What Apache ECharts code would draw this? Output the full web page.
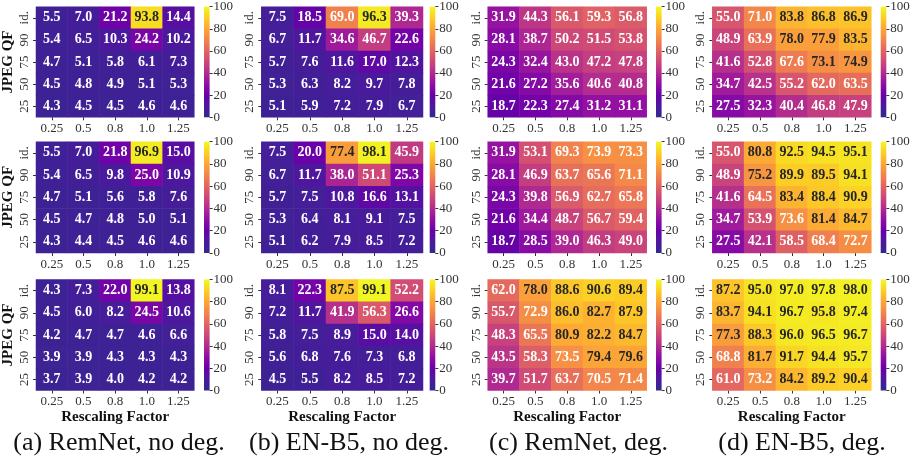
<!DOCTYPE html>
<html><head><meta charset="utf-8">
<script src="https://cdn.jsdelivr.net/npm/echarts@6/dist/echarts.min.js"></script>
<style>html,body{margin:0;padding:0;background:#fff}#c{width:913px;height:465px}</style>
</head><body><div id="c"></div>
<script>
// ---------- data ----------
const xCats = ['0.25', '0.5', '0.8', '1.0', '1.25'];          // Rescaling Factor
const yCats = ['25', '50', '75', '90', 'id.'];                 // JPEG QF, bottom -> top
const cbMin = 0, cbMax = 100, cbStep = 20;                      // colorbar ticks
const captions = ['(a) RemNet, no deg.', '(b) EN-B5, no deg.', '(c) RemNet, deg.', '(d) EN-B5, deg.'];

// each panel: rows listed top (id.) to bottom (25), columns 0.25 .. 1.25
const a1 = [[5.5, 7.0, 21.2, 93.8, 14.4], [5.4, 6.5, 10.3, 24.2, 10.2], [4.7, 5.1, 5.8, 6.1, 7.3], [4.5, 4.8, 4.9, 5.1, 5.3], [4.3, 4.5, 4.5, 4.6, 4.6]];
const b1 = [[7.5, 18.5, 69.0, 96.3, 39.3], [6.7, 11.7, 34.6, 46.7, 22.6], [5.7, 7.6, 11.6, 17.0, 12.3], [5.3, 6.3, 8.2, 9.7, 7.8], [5.1, 5.9, 7.2, 7.9, 6.7]];
const c1 = [[31.9, 44.3, 56.1, 59.3, 56.8], [28.1, 38.7, 50.2, 51.5, 53.8], [24.3, 32.4, 43.0, 47.2, 47.8], [21.6, 27.2, 35.6, 40.6, 40.8], [18.7, 22.3, 27.4, 31.2, 31.1]];
const d1 = [[55.0, 71.0, 83.8, 86.8, 86.9], [48.9, 63.9, 78.0, 77.9, 83.5], [41.6, 52.8, 67.6, 73.1, 74.9], [34.7, 42.5, 55.2, 62.0, 63.5], [27.5, 32.3, 40.4, 46.8, 47.9]];

const a2 = [[5.5, 7.0, 21.8, 96.9, 15.0], [5.4, 6.5, 9.8, 25.0, 10.9], [4.7, 5.1, 5.6, 5.8, 7.6], [4.5, 4.7, 4.8, 5.0, 5.1], [4.3, 4.4, 4.5, 4.6, 4.6]];
const b2 = [[7.5, 20.0, 77.4, 98.1, 45.9], [6.7, 11.7, 38.0, 51.1, 25.3], [5.7, 7.5, 10.8, 16.6, 13.1], [5.3, 6.4, 8.1, 9.1, 7.5], [5.1, 6.2, 7.9, 8.5, 7.2]];
const c2 = [[31.9, 53.1, 69.3, 73.9, 73.3], [28.1, 46.9, 63.7, 65.6, 71.1], [24.3, 39.8, 56.9, 62.7, 65.8], [21.6, 34.4, 48.7, 56.7, 59.4], [18.7, 28.5, 39.0, 46.3, 49.0]];
const d2 = [[55.0, 80.8, 92.5, 94.5, 95.1], [48.9, 75.2, 89.9, 89.5, 94.1], [41.6, 64.5, 83.4, 88.4, 90.9], [34.7, 53.9, 73.6, 81.4, 84.7], [27.5, 42.1, 58.5, 68.4, 72.7]];

const a3 = [[4.3, 7.3, 22.0, 99.1, 13.8], [4.5, 6.0, 8.2, 24.5, 10.6], [4.2, 4.7, 4.7, 4.6, 6.6], [3.9, 3.9, 4.3, 4.3, 4.3], [3.7, 3.9, 4.0, 4.2, 4.2]];
const b3 = [[8.1, 22.3, 87.5, 99.1, 52.2], [7.2, 11.7, 41.9, 56.3, 26.6], [5.8, 7.5, 8.9, 15.0, 14.0], [5.6, 6.8, 7.6, 7.3, 6.8], [4.5, 5.5, 8.2, 8.5, 7.2]];
const c3 = [[62.0, 78.0, 88.6, 90.6, 89.4], [55.7, 72.9, 86.0, 82.7, 87.9], [48.3, 65.5, 80.9, 82.2, 84.7], [43.5, 58.3, 73.5, 79.4, 79.6], [39.7, 51.7, 63.7, 70.5, 71.4]];
const d3 = [[87.2, 95.0, 97.0, 97.8, 98.0], [83.7, 94.1, 96.7, 95.8, 97.4], [77.3, 88.3, 96.0, 96.5, 96.7], [68.8, 81.7, 91.7, 94.4, 95.7], [61.0, 73.2, 84.2, 89.2, 90.4]];

const panels = [[a1, b1, c1, d1], [a2, b2, c2, d2], [a3, b3, c3, d3]];

// ---------- style / layout ----------
const plasma = ['#34288f', '#4a1a9c', '#6a00a8', '#8f0da4', '#b12a90', '#cc4778', '#e16462', '#f2844b', '#fca636', '#fcce25', '#f0f921'];
const SERIF = '"Liberation Serif", "Times New Roman", serif';
const colLeft = [36, 261.3, 487.7, 712.3];
const colWidth = [158.3, 161.7, 159, 159];
const rowTop = [6.7, 141.7, 279.5];
const rowHeight = [110.6, 111.3, 111];
const cbLeft = [204, 429.7, 656, 880.7];
const cbWidth = 5.6;
const capX = [119, 349, 578.5, 802];
const darkThreshold = [[74, 74, 74, 72], [74, 74, 74, 74], [74, 74, 74, 74]];
const tickColor = '#333';

const grid = [], xAxis = [], yAxis = [], series = [];
const heatIdx = [];
for (let r = 0; r < 3; r++) {
  for (let c = 0; c < 4; c++) {
    const gi = grid.length;
    grid.push({left: colLeft[c], top: rowTop[r], width: colWidth[c], height: rowHeight[r], containLabel: false});
    xAxis.push({
      type: 'category', gridIndex: gi, data: xCats,
      axisLine: {show: false},
      axisTick: {show: true, alignWithLabel: true, length: 3, lineStyle: {color: tickColor}},
      axisLabel: {margin: 5, fontFamily: SERIF, fontSize: 13, color: tickColor},
      splitArea: {show: false}, splitLine: {show: false},
      name: r === 2 ? 'Rescaling Factor' : '', nameLocation: 'middle', nameGap: 14,
      nameTextStyle: {fontFamily: SERIF, fontWeight: 'bold', fontSize: 15, color: '#111', verticalAlign: 'top'}
    });
    yAxis.push({
      type: 'category', gridIndex: gi, data: yCats,
      axisLine: {show: false},
      axisTick: {show: true, alignWithLabel: true, length: 3, lineStyle: {color: tickColor}},
      axisLabel: {margin: 5, rotate: 90, fontFamily: SERIF, fontSize: 13, color: tickColor},
      splitArea: {show: false}, splitLine: {show: false},
      name: c === 0 ? 'JPEG QF' : '', nameLocation: 'middle', nameGap: 20, nameRotate: 90,
      nameTextStyle: {fontFamily: SERIF, fontWeight: 'bold', fontSize: 15, color: '#111'}
    });
    const p = panels[r][c];
    const data = [];
    for (let i = 0; i < 5; i++) {
      for (let j = 0; j < 5; j++) {
        const v = p[i][j];
        data.push({value: [j, 4 - i, v], label: {color: v >= darkThreshold[r][c] ? '#262626' : '#ffffff'}});
      }
    }
    heatIdx.push(series.length);
    series.push({
      type: 'heatmap', xAxisIndex: gi, yAxisIndex: gi, data: data,
      label: {show: true, fontFamily: SERIF, fontWeight: 'bold', fontSize: 14,
        formatter: (q) => q.value[2].toFixed(1)},
      itemStyle: {borderWidth: 0}, emphasis: {disabled: true}, silent: true
    });
  }
}
// colorbars
const stops = plasma.map((col, k) => ({offset: k / (plasma.length - 1), color: col}));
for (let r = 0; r < 3; r++) {
  for (let c = 0; c < 4; c++) {
    const gi = grid.length;
    grid.push({left: cbLeft[c], top: rowTop[r], width: cbWidth, height: rowHeight[r], containLabel: false});
    xAxis.push({type: 'category', gridIndex: gi, data: ['cb'], show: false});
    yAxis.push({
      type: 'value', gridIndex: gi, min: cbMin, max: cbMax, interval: cbStep, position: 'right',
      axisLine: {show: false},
      axisTick: {show: true, length: 3, lineStyle: {color: tickColor}},
      axisLabel: {margin: 4, fontFamily: SERIF, fontSize: 13, color: tickColor},
      splitLine: {show: false}
    });
    series.push({
      type: 'bar', xAxisIndex: gi, yAxisIndex: gi, data: [cbMax], barWidth: '100%', silent: true,
      itemStyle: {color: new echarts.graphic.LinearGradient(0, 1, 0, 0, stops)}
    });
  }
}

const chart = echarts.init(document.getElementById('c'), null, {renderer: 'canvas'});
chart.setOption({
  animation: false,
  backgroundColor: '#fff',
  grid, xAxis, yAxis, series,
  visualMap: [{type: 'continuous', min: cbMin, max: cbMax, show: false, seriesIndex: heatIdx,
    inRange: {color: plasma}}],
  graphic: captions.map((t, i) => ({
    type: 'text', x: capX[i], y: 443,
    style: {text: t, fontFamily: SERIF, fontSize: 26, fill: '#111', align: 'center', verticalAlign: 'middle'}
  }))
});
</script></body></html>
